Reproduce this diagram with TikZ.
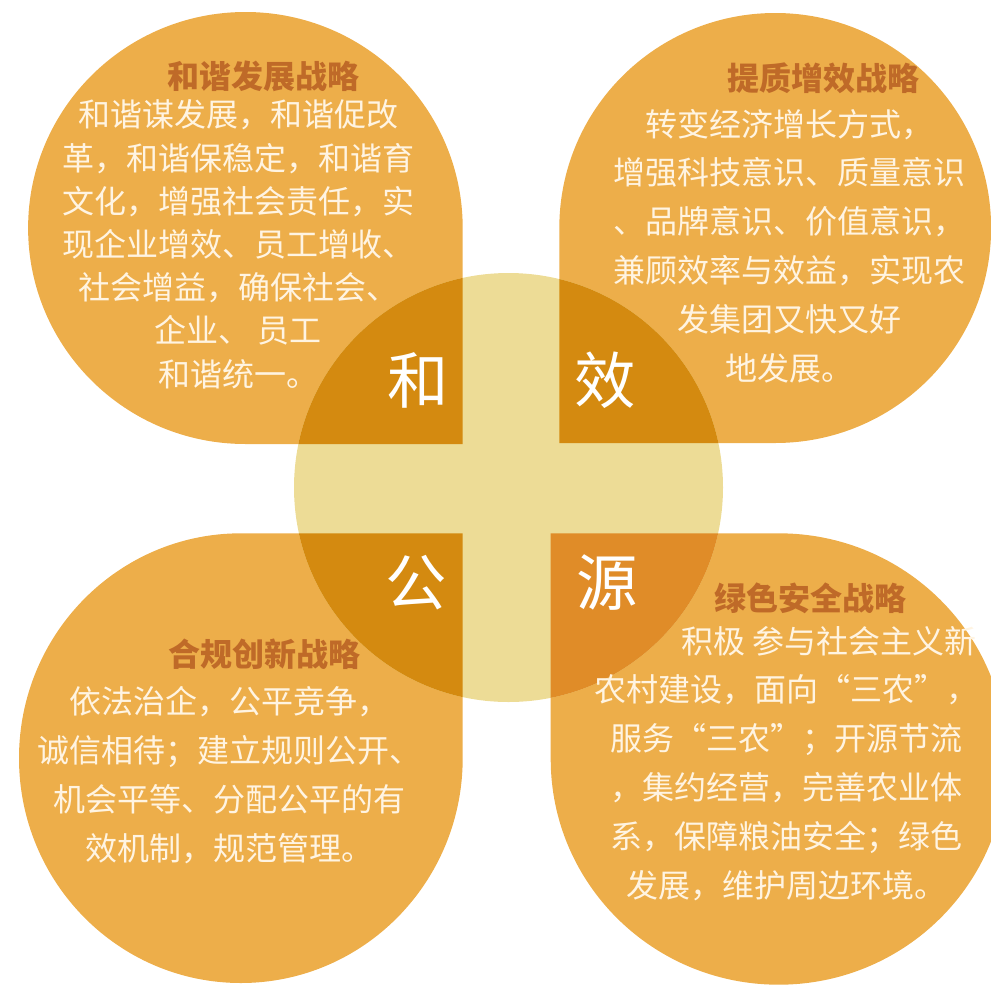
\documentclass[tikz,border=0pt]{standalone}
\usepackage{fontspec}
\newfontfamily\cjk{Noto Sans CJK SC}
\usetikzlibrary{positioning}

\definecolor{leaffill}{HTML}{EDAE4A}
\definecolor{hubfill}{HTML}{EDDC96}
\definecolor{overlapfill}{HTML}{D48A10}
\definecolor{overlapse}{HTML}{E08C28}
\definecolor{headtext}{HTML}{BF6A28}
\definecolor{bodytext}{HTML}{FFF4E2}

\begin{document}
\begin{tikzpicture}[x=0.75pt,y=0.75pt,
    nw leaf/.style={insert path={(462.7,-444) -- (245.4,-444)
        arc[start angle=270,end angle=0,x radius=217.3,y radius=216] -- cycle}},
    ne leaf/.style={insert path={(559.3,-443) -- (559.3,-228)
        arc[start angle=180,end angle=-90,x radius=215.9,y radius=215] -- cycle}},
    sw leaf/.style={insert path={(462.7,-533.3) -- (240.85,-533.3)
        arc[start angle=90,end angle=360,x radius=221.85,y radius=224.85] -- cycle}},
    se leaf/.style={insert path={(550.7,-533.3) -- (778.7,-533.3)
        arc[start angle=90,end angle=-180,x radius=228,y radius=225.7] -- cycle}},
    head/.style={anchor=base,inner sep=0pt,text=headtext,
        font=\cjk\bfseries\fontsize{24}{24}\selectfont},
    body/.style={anchor=base,inner sep=0pt,align=center,text=bodytext,
        font=\cjk\fontsize{24}{36.6}\selectfont},
    bigchar/.style={text=white,inner sep=0pt,font=\cjk\fontsize{46}{46}\selectfont}]

  \useasboundingbox (0,0) rectangle (991,-985);

  % four leaves
  \fill[leaffill, nw leaf];
  \fill[leaffill, ne leaf];
  \fill[leaffill, sw leaf];
  \fill[leaffill, se leaf];

  % hub and where it meets the leaves
  \fill[hubfill] (508.5,-487.5) circle[radius=214.5];
  \begin{scope}
    \clip (508.5,-487.5) circle[radius=214.5];
    \fill[overlapfill, nw leaf];
    \fill[overlapfill, ne leaf];
    \fill[overlapfill, sw leaf];
    \fill[overlapse, se leaf];
  \end{scope}

  \node[bigchar] (he)   at (418,-380)   {和};
  \node[bigchar] (xiao) at (605.5,-380) {效};
  \node[bigchar] (gong) at (416,-583)   {公};
  \node[bigchar] (yuan) at (607,-583)   {源};

  % base of each text block = its last line
  \node[head] (nwhead) at (263,-88) {和谐发展战略};
  \node[body,font=\cjk\fontsize{24}{32.4}\selectfont] (nwtext) at (238,-386)
    {和谐谋发展，和谐促改\\革，和谐保稳定，和谐育\\文化，增强社会责任，实\\现企业增效、员工增收、\\社会增益，确保社会、\\企业、 员工\\和谐统一。};

  \node[head] (nehead) at (823,-90) {提质增效战略};
  \node[body] (netext) at (789,-380)
    {转变经济增长方式，\\增强科技意识、质量意识\\、品牌意识、价值意识，\\兼顾效率与效益，实现农\\发集团又快又好\\地发展。};

  \node[head] (swhead) at (264,-666) {合规创新战略};
  \node[body] (swtext) at (229,-860)
    {依法治企，公平竞争，\\诚信相待；建立规则公开、\\机会平等、分配公平的有\\效机制，规范管理。};

  \node[head] (sehead) at (810,-610) {绿色安全战略};
  \node[body] (setext) at (786,-897)
    {\hspace*{64pt}积极 参与社会主义新\\农村建设，面向“三农”，\\服务“三农”；开源节流\\，集约经营，完善农业体\\系，保障粮油安全；绿色\\发展，维护周边环境。};

\end{tikzpicture}
\end{document}
